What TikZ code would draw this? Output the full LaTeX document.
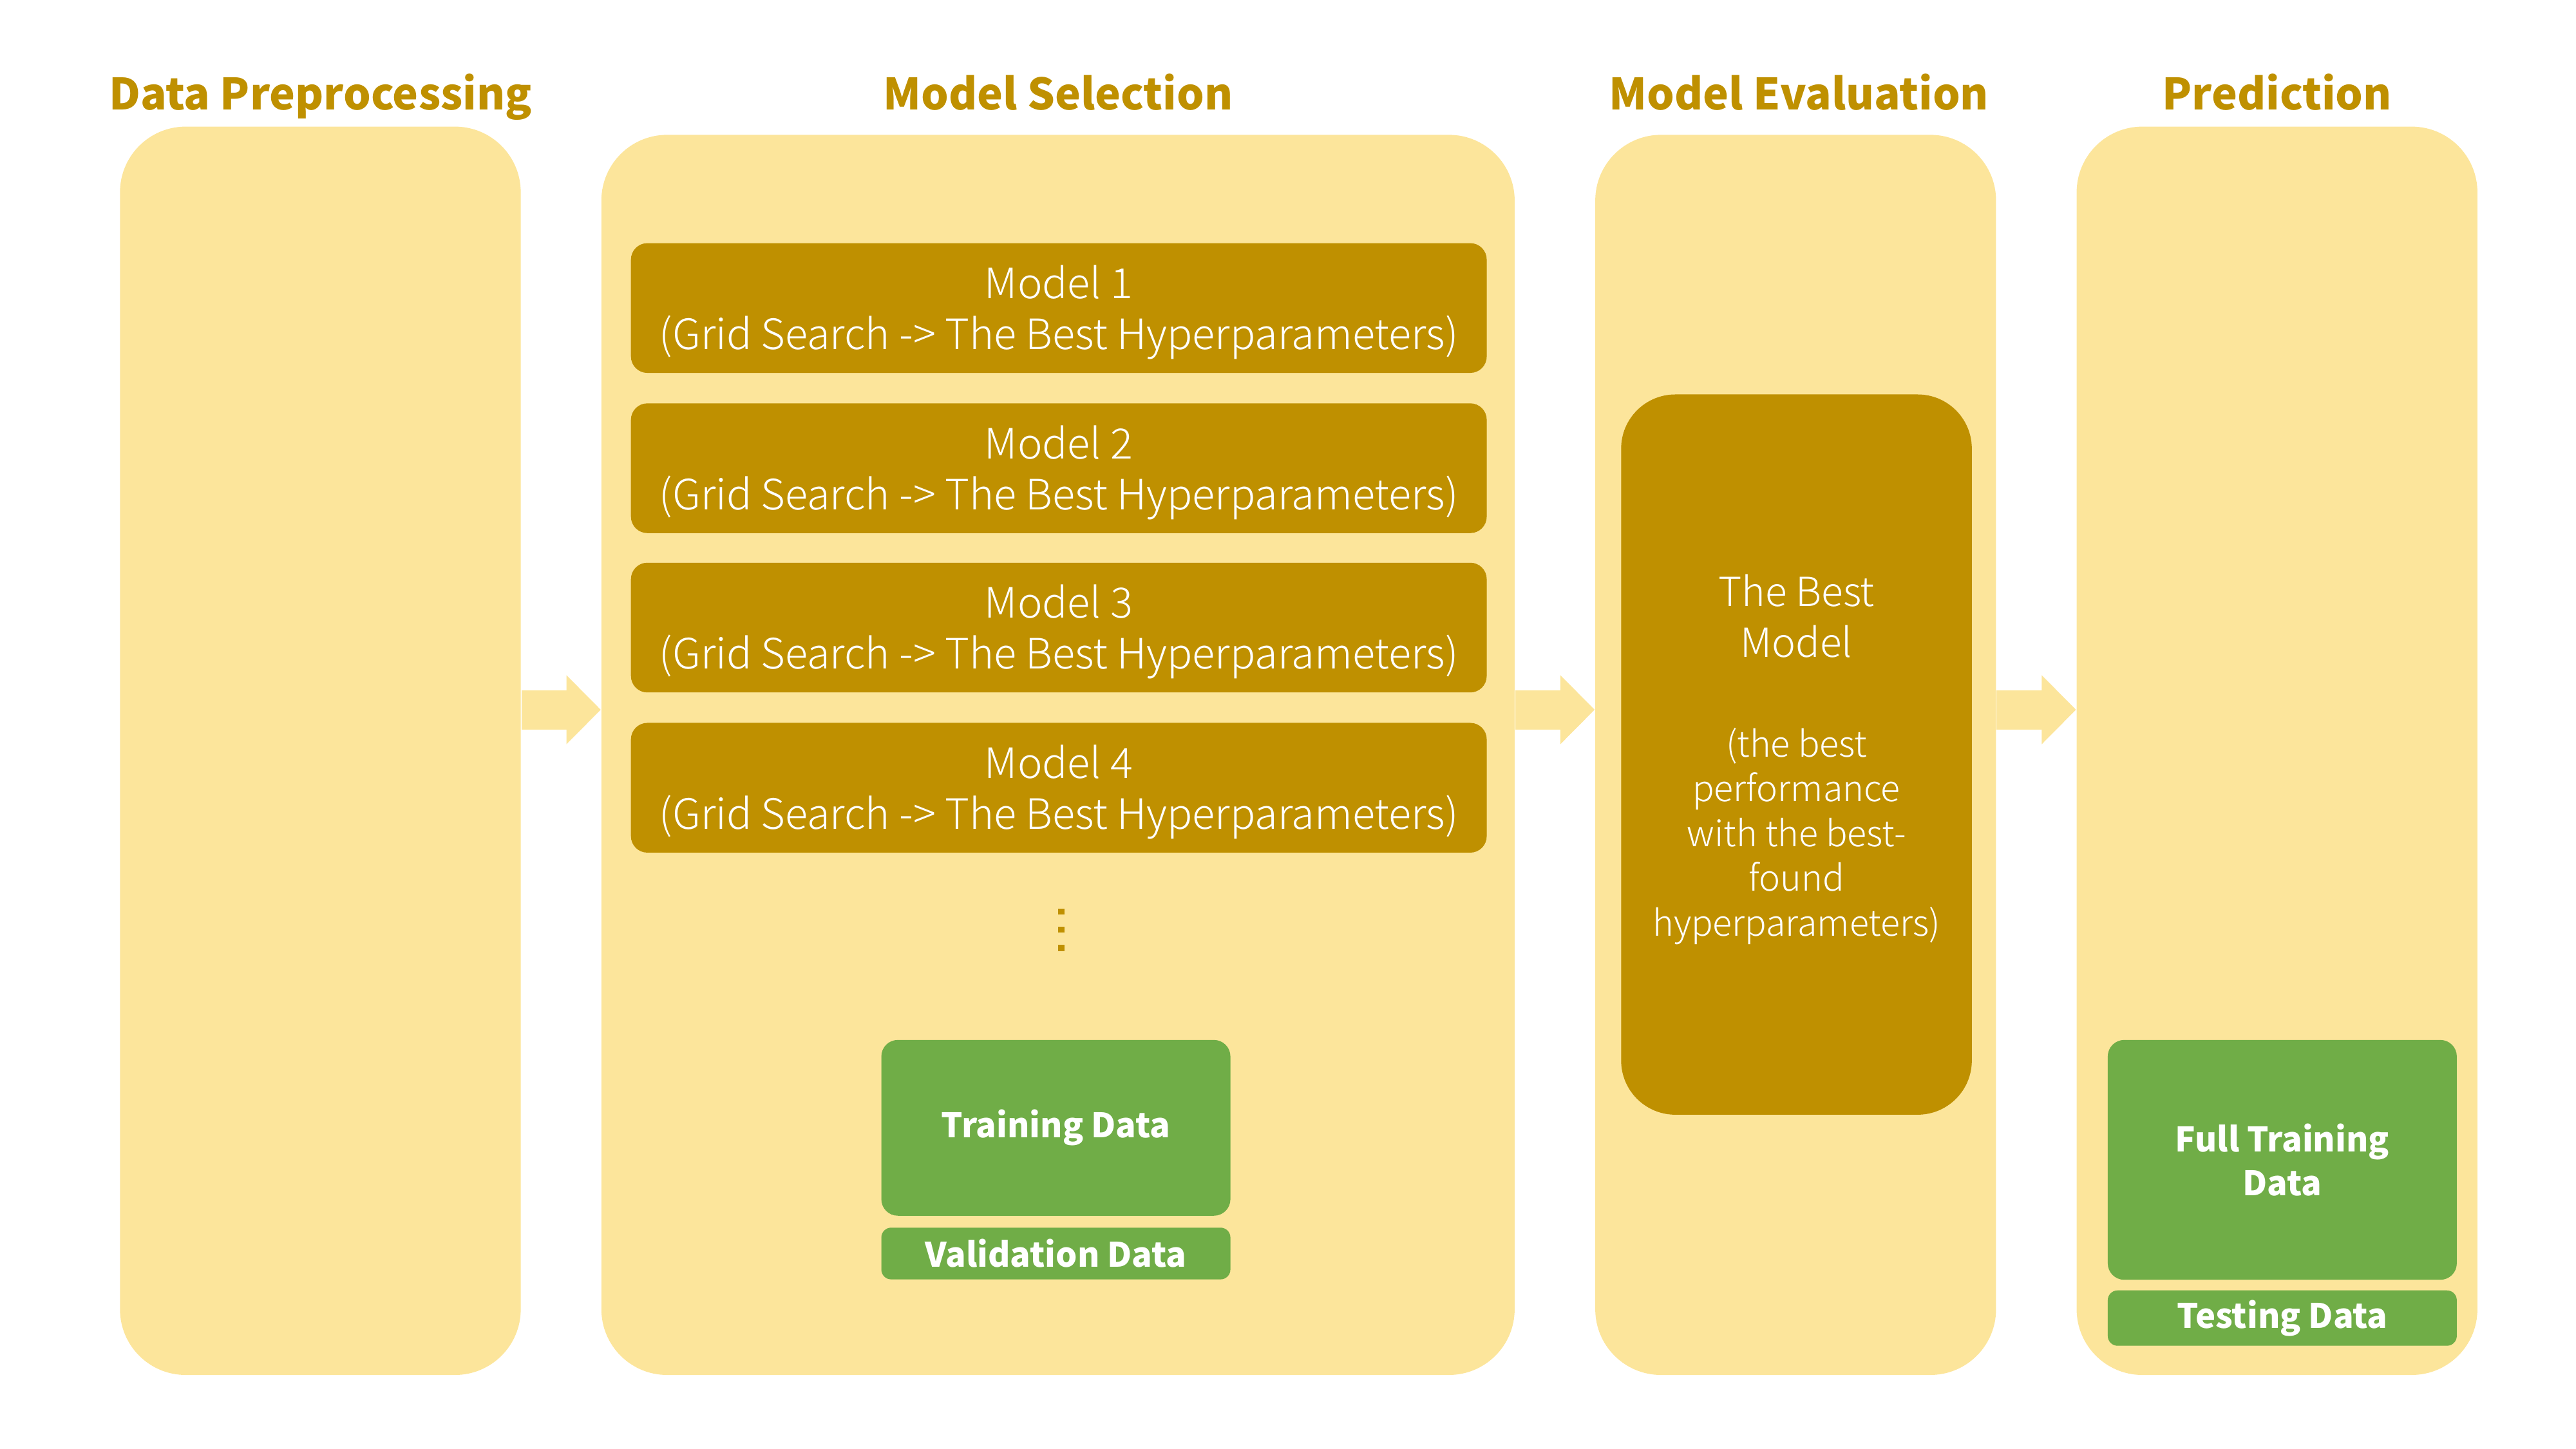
\documentclass[tikz,border=0pt]{standalone}
\usepackage{fontspec}
\setmainfont{Noto Sans CJK SC}
\newfontfamily\lightfont{Noto Sans CJK SC Light}
\usetikzlibrary{arrows.meta, positioning, calc}

\definecolor{panelfill}{RGB}{252,229,155}
\definecolor{darkgold}{RGB}{191,144,0}
\definecolor{datagreen}{RGB}{112,173,71}

\tikzset{
  panel/.style={fill=panelfill, rounded corners=0.8cm, minimum width=4.88cm, minimum height=15.1cm},
  title/.style={text=darkgold, font=\fontsize{15}{18}\selectfont\bfseries, anchor=base},
  modelbox/.style={fill=darkgold, text=white, rounded corners=0.2cm, minimum width=10.42cm, minimum height=1.58cm, align=center, font=\lightfont\fontsize{14.5}{17.6}\selectfont},
  databox/.style={fill=datagreen, text=white, rounded corners=0.2cm, minimum width=4.25cm, align=center, font=\fontsize{11.7}{15.3}\selectfont\bfseries},
  flow/.style={panelfill, line width=13.6pt, -{Triangle[length=11.9pt, width=23.2pt]}}
}

\begin{document}
\begin{tikzpicture}[x=0.02cm, y=-0.02cm]

        \useasboundingbox (0,0) rectangle (1568,882);

        % Panels
        \node[panel, minimum height=15.2cm] (prep) at (195, 457) {};
        \node[panel, minimum width=11.12cm] (select) at (644, 459.5) {};
        \node[panel] (eval) at (1093, 459.5) {};
        \node[panel, minimum height=15.2cm] (pred) at (1386, 457) {};

        % Titles
        \node[title] (tprep) at (195, 67) {Data Preprocessing};
        \node[title] (tselect) at (644, 67) {Model Selection};
        \node[title] (teval) at (1095, 67) {Model Evaluation};
        \node[title] (tpred) at (1386, 67) {Prediction};

        % Arrows between stages
        \coordinate (ay) at (0, 432);
        \draw[flow] (prep.east |- ay) -- (select.west |- ay);
        \draw[flow] (select.east |- ay) -- (eval.west |- ay);
        \draw[flow] (eval.east |- ay) -- (pred.west |- ay);

        % Models
        \node[modelbox] (m1) at (644.5, 187.5) {\rule{0pt}{14.5pt}Model 1\\(Grid Search -> The Best Hyperparameters)};
        \node[modelbox] (m2) at (644.5, 285) {\rule{0pt}{14.5pt}Model 2\\(Grid Search -> The Best Hyperparameters)};
        \node[modelbox] (m3) at (644.5, 382) {\rule{0pt}{14.5pt}Model 3\\(Grid Search -> The Best Hyperparameters)};
        \node[modelbox] (m4) at (644.5, 479.5) {\rule{0pt}{14.5pt}Model 4\\(Grid Search -> The Best Hyperparameters)};

        % Dots
        \foreach \dy in {555, 566, 577}
            \fill[darkgold] (644, \dy-1.8) rectangle (648, \dy+1.8);

        % Data split for model selection
        \node[databox, minimum height=2.14cm] (train) at (642.7, 686.5) {Training Data};
        \node[databox, minimum height=0.63cm, rounded corners=0.12cm] (valid) at (642.7, 763) {Validation Data};

        % Best model
        \node[fill=darkgold, text=white, rounded corners=0.66cm, minimum width=4.27cm, minimum height=8.77cm, align=center, font=\lightfont\fontsize{12.4}{15.5}\selectfont] (best) at (1093.5, 459.3)
            {{\fontsize{13.9}{15.5}\selectfont\rule{0pt}{14.5pt}The Best}\\[2.1pt]{\fontsize{13.9}{15.5}\selectfont Model}\\[19pt](the best\\performance\\with the best-\\found\\hyperparameters)};

        % Data split for prediction
        \node[databox, minimum height=2.92cm] (full) at (1389.2, 706) {Full Training\\Data};
        \node[databox, minimum height=0.63cm, rounded corners=0.12cm] (test) at (1389.2, 802.3) {Testing Data};

\end{tikzpicture}
\end{document}
